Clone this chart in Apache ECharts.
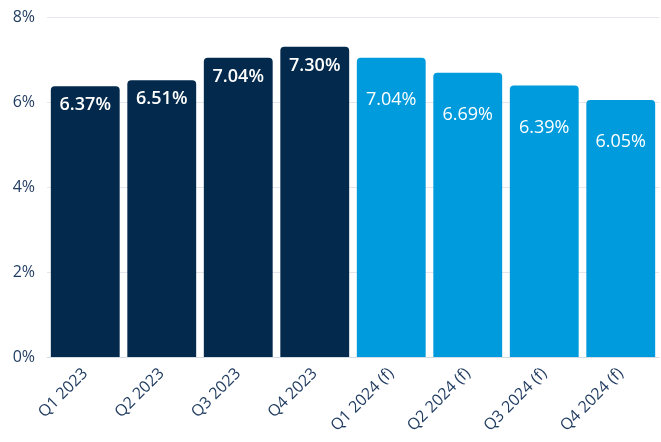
<!DOCTYPE html>
<html>
<head>
<meta charset="utf-8">
<script src="https://cdn.jsdelivr.net/npm/echarts@6/dist/echarts.min.js"></script>
<style>html,body{margin:0;padding:0;background:#fff}#c{width:661px;height:442px}</style>
</head>
<body>
<div id="c"></div>
<script>
const categories = ["Q1 2023","Q2 2023","Q3 2023","Q4 2023","Q1 2024 (f)","Q2 2024 (f)","Q3 2024 (f)","Q4 2024 (f)"];
const actualValues = [6.37, 6.51, 7.04, 7.30];
const forecastValues = [7.04, 6.69, 6.39, 6.05];
const yTicks = [0, 2, 4, 6, 8];

const actualData = categories.map((c, i) => i < actualValues.length ? actualValues[i] : null);
const forecastData = categories.map((c, i) => i >= actualValues.length ? forecastValues[i - actualValues.length] : null);

const chart = echarts.init(document.getElementById('c'), null, {renderer: 'canvas'});
const navy = '#032a4c';
const blue = '#009bdc';
const fontFam = '"Open Sans", "Noto Sans", sans-serif';
chart.setOption({
  animation: false,
  grid: {left: 47, right: 2, top: 17, bottom: 85},
  xAxis: {
    type: 'category',
    data: categories,
    axisTick: {show: false},
    axisLine: {lineStyle: {color: '#d5dbe3'}},
    axisLabel: {rotate: 45, color: '#1e3a5f', fontSize: 16, fontFamily: fontFam, margin: 14, interval: 0}
  },
  yAxis: {
    type: 'value',
    min: yTicks[0], max: yTicks[yTicks.length - 1], interval: 2,
    axisLabel: {formatter: v => v + '%', color: '#1e3a5f', fontSize: 16, fontFamily: fontFam, margin: 12},
    splitLine: {lineStyle: {color: '#e3e7ed'}},
    axisLine: {show: false}, axisTick: {show: false}
  },
  series: [
    {
      type: 'bar', data: actualData, barCategoryGap: '10%', barGap: '-100%',
      itemStyle: {color: navy, borderRadius: [4, 4, 0, 0]},
      label: {show: true, position: 'insideTop', distance: 10, color: '#fff', fontSize: 18, fontWeight: 600, fontFamily: fontFam, formatter: p => p.value.toFixed(2) + '%'}
    },
    {
      type: 'bar', data: forecastData, barCategoryGap: '10%', barGap: '-100%',
      itemStyle: {color: blue, borderRadius: [4, 4, 0, 0]},
      label: {show: true, position: 'insideTop', distance: 33, color: '#fff', fontSize: 18, fontWeight: 500, fontFamily: fontFam, formatter: p => p.value.toFixed(2) + '%'}
    }
  ]
});
</script>
</body>
</html>
